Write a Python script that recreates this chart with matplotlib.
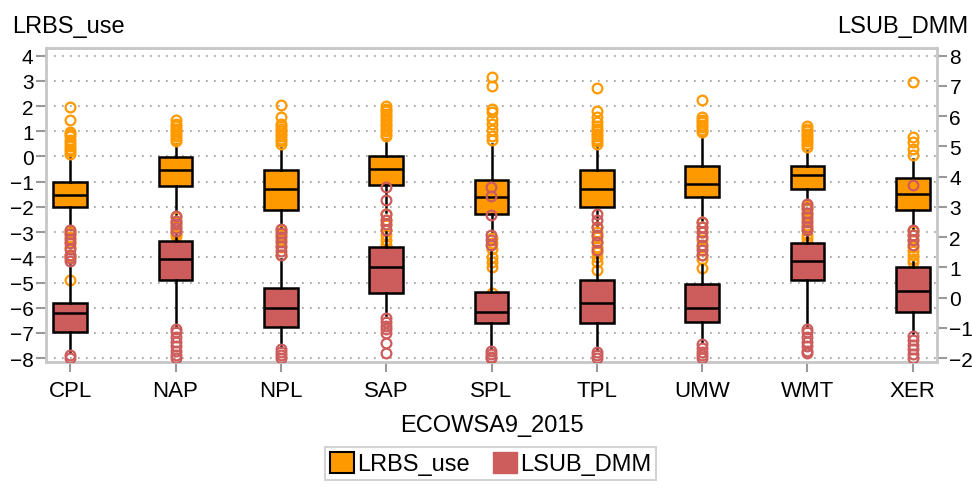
import matplotlib
matplotlib.use("Agg")
import matplotlib.pyplot as plt
from matplotlib.patches import Patch

plt.rcParams["font.family"] = ["Liberation Sans", "DejaVu Sans"]

###################
# Data (read off) #
###################
categories = ["CPL", "NAP", "NPL", "SAP", "SPL", "TPL", "UMW", "WMT", "XER"]

# LRBS_use -> left axis
lrbs_q1 = [-2.0, -1.16, -2.11, -1.15, -2.27, -2.0, -1.61, -1.30, -2.11]
lrbs_med = [-1.54, -0.52, -1.30, -0.50, -1.61, -1.30, -1.08, -0.75, -1.47]
lrbs_q3 = [-1.0, -0.02, -0.53, 0.02, -0.92, -0.53, -0.38, -0.38, -0.84]
lrbs_whishi = [0.0, 0.48, 0.35, 0.70, 0.50, 0.40, 0.83, 0.24, -0.09]
lrbs_whislo = [-2.86, -2.3, -2.86, -2.2, -3.0, -2.8, -2.5, -1.87, -2.93]
lrbs_fliers = [
    [0.11, 0.2, 0.3, 0.4, 0.55, 0.64, 0.8, 0.9, 0.97, 1.45, 1.96,
     -2.95, -3.05, -3.2, -3.4, -3.6, -3.9, -4.0, -4.88],
    [0.6, 0.7, 0.8, 0.9, 1.0, 1.1, 1.2, 1.3, 1.43,
     -2.4, -2.6, -2.8, -3.0, -3.08, -3.15],
    [0.5, 0.6, 0.7, 0.8, 0.9, 1.0, 1.1, 1.2, 1.3, 1.55, 2.05,
     -2.9, -3.1, -3.3, -3.6, -3.9],
    [0.8, 0.9, 1.0, 1.1, 1.2, 1.3, 1.4, 1.5, 1.6, 1.7, 1.8, 1.9, 2.0,
     -2.3, -2.5, -2.7, -2.9, -3.1, -3.3, -3.5, -3.69],
    [0.64, 0.83, 1.03, 1.3, 1.5, 1.76, 1.89, 2.8, 3.14,
     -3.25, -3.45, -3.65, -3.98, -4.18, -4.38, -5.43],
    [0.5, 0.6, 0.7, 0.8, 0.9, 1.0, 1.1, 1.2, 1.35, 1.56, 1.8, 2.7,
     -2.8, -3.0, -3.2, -3.4, -3.6, -3.8, -4.0, -4.2, -4.5],
    [0.97, 1.05, 1.15, 1.25, 1.35, 1.45, 1.56, 2.25,
     -2.6, -2.8, -3.0, -3.3, -3.6, -3.9, -4.05, -4.44],
    [0.37, 0.5, 0.6, 0.7, 0.8, 0.9, 1.0, 1.1, 1.2,
     -1.95, -2.1, -2.3, -2.5, -2.7, -2.93, -3.1, -3.25, -3.39],
    [0.04, 0.31, 0.57, 0.77, 2.95,
     -2.95, -3.1, -3.3, -3.6, -3.75, -3.9, -4.05, -4.18],
]

# LSUB_DMM -> right axis
lsub_q1 = [-1.125, 0.60, -0.96, 0.14, -0.85, -0.85, -0.79, 0.60, -0.467]
lsub_med = [-0.52, 1.275, -0.325, 1.0, -0.467, -0.19, -0.325, 1.21, 0.225]
lsub_q3 = [-0.19, 1.86, 0.325, 1.66, 0.19, 0.60, 0.467, 1.81, 1.0]
lsub_whishi = [1.075, 2.08, 1.29, 2.17, 1.58, 1.42, 1.08, 2.08, 1.17]
lsub_whislo = [-1.78, -0.96, -1.62, -0.63, -1.67, -1.73, -1.46, -0.96, -1.18]
lsub_fliers = [
    [1.2, 1.3, 1.4, 1.6, 1.8, 1.95, 2.1, 2.25, -1.9, -2.0],
    [2.2, 2.3, 2.45, 2.55, 2.7,
     -1.02, -1.15, -1.3, -1.45, -1.6, -1.75, -1.9, -2.0],
    [1.4, 1.55, 1.7, 1.85, 2.0, 2.15, 2.28, -1.7, -1.8, -1.9, -2.0],
    [2.25, 2.42, 2.58, 2.77, 3.24, 3.66,
     -0.68, -0.8, -0.92, -1.05, -1.17, -1.5, -1.83],
    [1.75, 1.92, 2.08, 2.72, 3.37, 3.67, -1.75, -1.85, -1.95, -2.0],
    [1.58, 1.83, 2.08, 2.33, 2.58, 2.78, -1.8, -1.9, -2.0],
    [1.42, 1.58, 1.75, 2.0, 2.17, 2.33, 2.5, -1.54, -1.65, -1.8, -1.9, -2.0],
    [2.23, 2.35, 2.5, 2.65, 2.8, 2.95, 3.11,
     -1.02, -1.15, -1.3, -1.45, -1.6, -1.75, -1.83],
    [1.75, 1.92, 2.08, 2.225, 3.71, -1.25, -1.4, -1.55, -1.7, -1.85, -2.0],
]

orange = "#FF9900"
red = "#CD5C5C"
frame_gray = "#C8C8C8"


def make_stats(q1, med, q3, lo, hi, fl):
    return [dict(q1=a, med=b, q3=c, whislo=d, whishi=e, fliers=f)
            for a, b, c, d, e, f in zip(q1, med, q3, lo, hi, fl)]


fig = plt.figure(figsize=(9.72, 4.89), dpi=100)
ax = fig.add_axes([46 / 972, 1 - 363 / 489, (937 - 46) / 972, (363 - 49) / 489])
ax2 = ax.twinx()

pos = list(range(len(categories)))


def draw(axis, stats, color, z):
    axis.bxp(stats, positions=pos, widths=0.32, patch_artist=True, showcaps=False,
             boxprops=dict(facecolor=color, edgecolor="black", linewidth=1.8),
             medianprops=dict(color="black", linewidth=1.8),
             whiskerprops=dict(color="black", linewidth=1.8),
             flierprops=dict(marker="o", markerfacecolor="none", markeredgecolor=color,
                             markersize=7, markeredgewidth=1.6),
             zorder=z)


draw(ax, make_stats(lrbs_q1, lrbs_med, lrbs_q3, lrbs_whislo, lrbs_whishi, lrbs_fliers), orange, 3)
draw(ax2, make_stats(lsub_q1, lsub_med, lsub_q3, lsub_whislo, lsub_whishi, lsub_fliers), red, 3)

ax.set_xlim(-0.23, 8.23)
ax.set_ylim(-8.15, 4.3)
ax2.set_ylim(-2.125, 8.25)
ax.set_yticks(range(-8, 5))
ax2.set_yticks(range(-2, 9))
ax.set_xticks(pos)
ax.set_xticklabels(categories)

ax.grid(axis="y", color="#999999", linestyle=(0, (1, 3.8)), linewidth=1.2)
ax.set_axisbelow(True)

for a in (ax, ax2):
    for s in a.spines.values():
        s.set_color(frame_gray)
        s.set_linewidth(1.8)
    a.tick_params(axis="y", colors="#999999", labelcolor="black", length=7, width=1.5,
                  labelsize=15, pad=2)
ax.tick_params(axis="x", colors="#999999", labelcolor="black", length=7, width=1.5,
               labelsize=16, pad=6)

ax.set_xlabel("ECOWSA9_2015", fontsize=17)
ax.xaxis.set_label_coords(0.5, -0.165)

fig.text(12 / 972, 1 - 33 / 489, "LRBS_use", fontsize=17, ha="left", va="baseline")
fig.text(968 / 972, 1 - 33 / 489, "LSUB_DMM", fontsize=17, ha="right", va="baseline")

handles = [Patch(facecolor=orange, edgecolor="black", linewidth=1.5, label="LRBS_use"),
           Patch(facecolor=red, edgecolor=red, label="LSUB_DMM")]
leg = fig.legend(handles=handles, loc="upper center", bbox_to_anchor=(0.505, 1 - 448 / 489),
                 ncol=2, fontsize=17, frameon=True, fancybox=False, handlelength=1.0,
                 handleheight=1.0, handletextpad=0.15, columnspacing=1.0, borderpad=0.2,
                 borderaxespad=0.0)
leg.get_frame().set_edgecolor(frame_gray)
leg.get_frame().set_linewidth(1.5)

fig.savefig("out.png", dpi=100)
